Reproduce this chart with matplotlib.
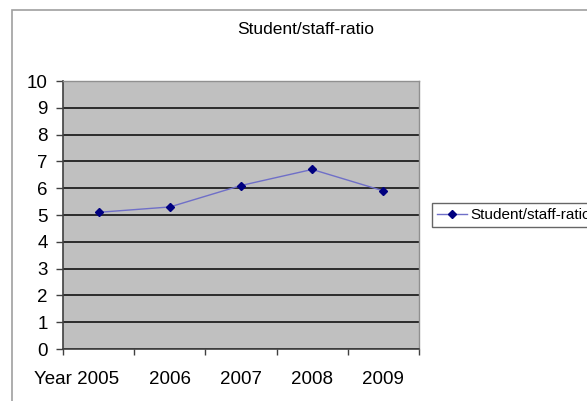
import matplotlib.pyplot as plt
import matplotlib.patches as mpatches
from matplotlib.transforms import ScaledTranslation
plt.switch_backend('agg')

years = ['Year 2005', '2006', '2007', '2008', '2009']
ratio = [5.1, 5.3, 6.1, 6.7, 5.9]
series_name = 'Student/staff-ratio'
yticks = list(range(0, 11))

plt.rcParams['font.family'] = ['Liberation Sans', 'DejaVu Sans']

fig = plt.figure(figsize=(5.87, 4.01), dpi=100)
# outer chart frame
fig.patches.append(mpatches.Rectangle((12/587, -0.1), 1.0, (401-10)/401 + 0.1,
                                      transform=fig.transFigure, facecolor='white',
                                      edgecolor='#a0a0a0', linewidth=1.2, zorder=-10))

ax = fig.add_axes([63/587, (401-349)/401, 356/587, 268/401])
ax.set_facecolor('#c0c0c0')
x = list(range(len(years)))
ax.plot(x, ratio, color='#6f6fc8', linewidth=1.0, marker='D', markersize=4,
        markerfacecolor='#000080', markeredgecolor='#000080', label=series_name, zorder=3)

ax.set_xlim(-0.5, len(years) - 0.5)
ax.set_ylim(0, 10)
ax.set_yticks(yticks)
ax.yaxis.grid(True, color='#202020', linewidth=1.3)
ax.set_axisbelow(True)

ax.set_xticks(x)
ax.set_xticklabels(years)
ax.set_xticks([i + 0.5 for i in range(-1, len(years))], minor=True)
ax.tick_params(axis='x', which='major', length=0, pad=16, labelsize=13.5)
ax.tick_params(axis='x', which='minor', length=4, width=1, color='#404040', direction='out')
ax.tick_params(axis='y', length=5, width=1, color='#404040', pad=6, labelsize=13.5)
first = ax.get_xticklabels()[0]
first.set_transform(first.get_transform() + ScaledTranslation(-0.22, 0, fig.dpi_scale_trans))

for side in ['left', 'bottom']:
    ax.spines[side].set_color('#404040')
    ax.spines[side].set_linewidth(1.2)
for side in ['top', 'right']:
    ax.spines[side].set_color('#909090')
    ax.spines[side].set_linewidth(1.0)

fig.text(306/587, 1 - 30/401, series_name, ha='center', va='center', fontsize=12.5)

leg = ax.legend(loc='center left', bbox_to_anchor=(432/587, 1 - 215/401),
                bbox_transform=fig.transFigure, fontsize=11, frameon=True, fancybox=False,
                borderpad=0.3, handlelength=2.0, handletextpad=0.2, borderaxespad=0)
leg.get_frame().set_edgecolor('#404040')
leg.get_frame().set_linewidth(1.0)

fig.savefig('out.png', dpi=100)
